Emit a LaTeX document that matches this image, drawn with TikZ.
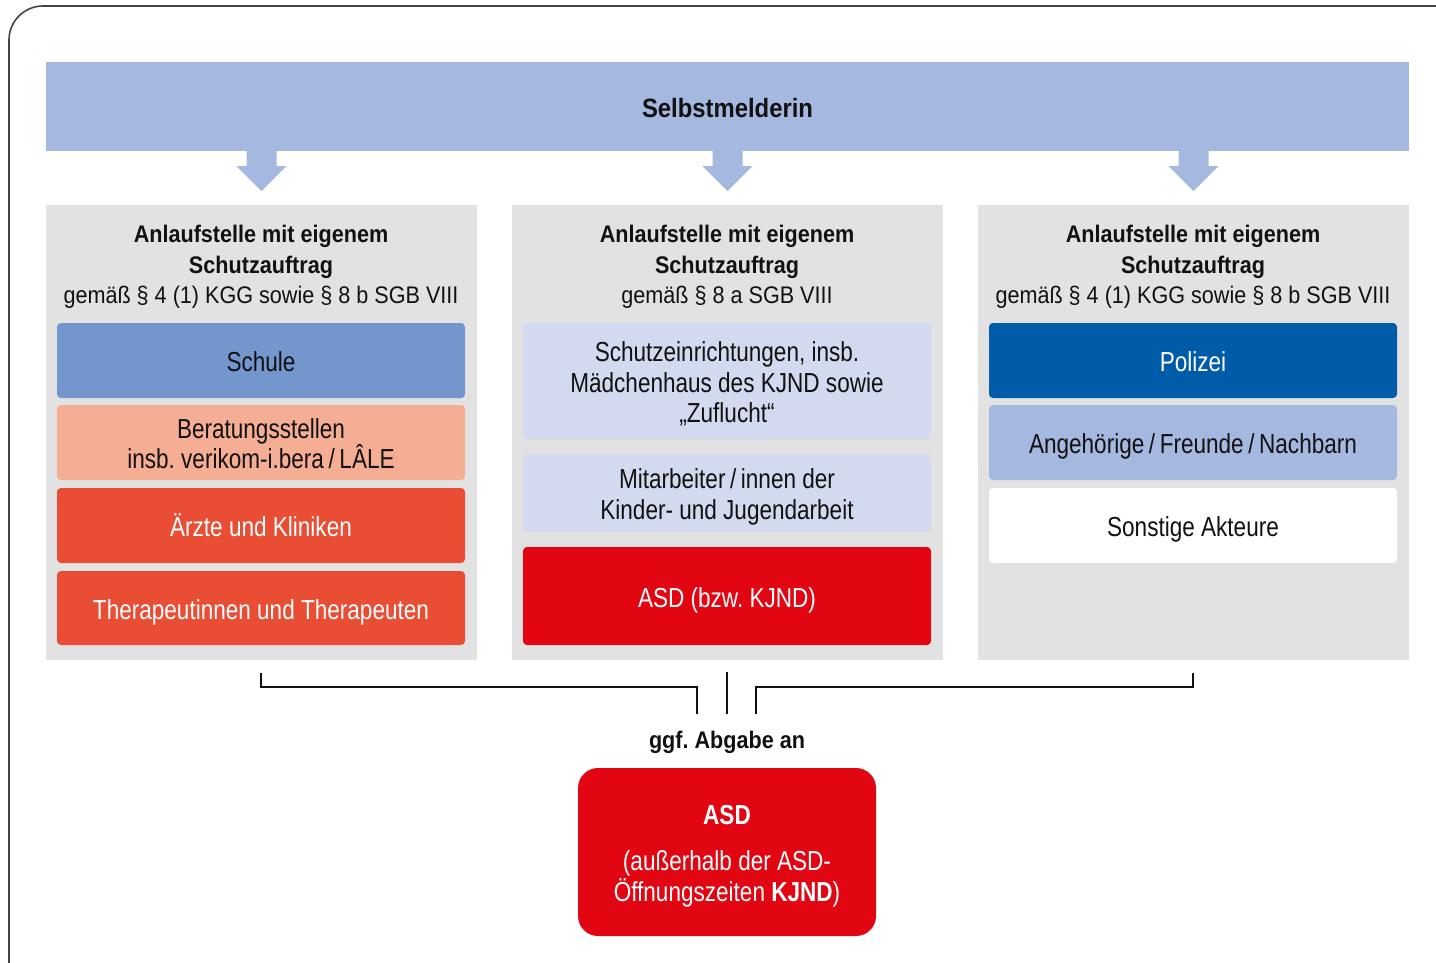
\documentclass[tikz,border=0pt]{standalone}
\usepackage{fontspec}
\setmainfont{Liberation Sans}[FakeStretch=0.9]
\newfontfamily\boxfont{Liberation Sans}[FakeStretch=0.82]
\usetikzlibrary{calc}
\frenchspacing
\definecolor{barc}{HTML}{A5B8DF}
\definecolor{grayc}{HTML}{E2E2E2}
\definecolor{schulec}{HTML}{7396CD}
\definecolor{beratc}{HTML}{F5AE94}
\definecolor{aerztec}{HTML}{E94E35}
\definecolor{lavc}{HTML}{D3DAEF}
\definecolor{redc}{HTML}{E20613}
\definecolor{polc}{HTML}{005CA9}
\definecolor{txtc}{HTML}{111111}
\definecolor{framec}{HTML}{444444}
\newcommand\ft{\rule{0pt}{29pt}}
\newcommand\lt{\rule[-7pt]{0pt}{7pt}}
\tikzset{
  colbox/.style={fill=grayc, inner sep=0pt, outer sep=0pt, minimum width=431pt, minimum height=455pt},
  ibox/.style={rounded corners=4pt, inner sep=0pt, outer sep=0pt, minimum width=408pt, align=center,
     font=\boxfont\fontsize{27.5}{30.8}\selectfont, text=txtc},
  wtext/.style={text=white},
  headtxt/.style={align=center, inner sep=0pt, font=\fontsize{24}{30.5}\selectfont, text=txtc},
  bracketline/.style={line width=2.6pt, draw=txtc},
  arrowfill/.style={fill=barc},
}
\begin{document}
\begin{tikzpicture}[x=1pt,y=-1pt]
\useasboundingbox (0,0) rectangle (1436,963);
\begin{scope}
\clip (0,0) rectangle (1436,963);
\draw[line width=1.6pt, draw=framec, rounded corners=34pt] (9,6) rectangle (1475,1000);
\end{scope}
% top bar
\node[fill=barc, inner sep=0pt, minimum width=1363pt, minimum height=89pt, text height=23pt, text depth=0pt,
  font=\fontsize{26.5}{30}\selectfont\bfseries, text=txtc] (top) at (727.5,106.5) {Selbstmelderin};
% columns
\node[colbox] (colA) at (261.5,432.5) {};
\node[colbox] (colB) at (727.5,432.5) {};
\node[colbox] (colC) at (1193.5,432.5) {};
% arrows
\foreach \c in {colA,colB,colC}{
  \fill[arrowfill] ($(top.south -| \c.north)+(-15,0)$) -- ++(30,0) -- ++(0,15) -- ++(10,0)
     -- ++(-25,25) -- ++(-25,-25) -- ++(10,0) -- cycle;
}
% headers
\node[headtxt] (hA) at (261,267) {\textbf{Anlaufstelle mit eigenem}\\\textbf{Schutzauftrag}\\gemäß § 4 (1) KGG sowie § 8 b SGB VIII};
\node[headtxt] (hB) at (727,267) {\textbf{Anlaufstelle mit eigenem}\\\textbf{Schutzauftrag}\\gemäß § 8 a SGB VIII};
\node[headtxt] (hC) at (1193,267) {\textbf{Anlaufstelle mit eigenem}\\\textbf{Schutzauftrag}\\gemäß § 4 (1) KGG sowie § 8 b SGB VIII};
% left column boxes
\node[ibox, fill=schulec, minimum height=75pt] (schule) at (261,360.5) {\ft Schule\lt};
\node[ibox, fill=beratc, minimum height=75pt] (berat) at (261,442.5) {\ft Beratungsstellen\\insb. verikom-i.bera\,/\,LÂLE\lt};
\node[ibox, wtext, fill=aerztec, minimum height=75pt] (aerzte) at (261,525.5) {\ft Ärzte und Kliniken\lt};
\node[ibox, wtext, fill=aerztec, minimum height=74pt] (therap) at (261,608) {\ft Therapeutinnen und Therapeuten\lt};
% middle column boxes
\node[ibox, fill=lavc, minimum height=116pt] (schutz) at (727,381) {\ft Schutzeinrichtungen, insb.\\Mädchenhaus des KJND sowie\\„Zuflucht“\lt};
\node[ibox, fill=lavc, minimum height=78pt] (mitarb) at (727,493) {\ft Mitarbeiter\,/\,innen der\\Kinder- und Jugendarbeit\lt};
\node[ibox, wtext, fill=redc, minimum height=98pt] (asdB) at (727,596) {\ft ASD (bzw. KJND)\lt};
% right column boxes
\node[ibox, wtext, fill=polc, minimum height=75pt] (pol) at (1193,360.5) {\ft Polizei\lt};
\node[ibox, fill=barc, minimum height=75pt] (angeh) at (1193,442.5) {\ft Angehörige\,/\,Freunde\,/\,Nachbarn\lt};
\node[ibox, fill=white, minimum height=75pt] (sonst) at (1193,525.5) {\ft Sonstige Akteure\lt};
% bracket
\coordinate (bA) at ($(colA.south)+(-0.5,13)$);
\coordinate (bB) at ($(colB.south)+(-0.5,12)$);
\coordinate (bC) at ($(colC.south)+(-0.5,13)$);
\node[inner sep=0pt, font=\fontsize{24}{28}\selectfont\bfseries, text=txtc] (abg) at (727,742) {ggf. Abgabe an};
\coordinate (eA) at (697,714);
\coordinate (eB) at (727,714);
\coordinate (eC) at (756,714);
\draw[bracketline] (bA) |- ($(eA)+(0,-27)$) -- (eA);
\draw[bracketline] (bB) -- (eB);
\draw[bracketline] (bC) |- ($(eC)+(0,-27)$) -- (eC);
% bottom box
\node[fill=redc, rounded corners=20pt, inner sep=0pt, minimum width=298pt, minimum height=168pt,
  text=white, align=center, font=\boxfont\fontsize{27.5}{30.5}\selectfont] (asd) at (727,852)
  {\ft\textbf{ASD}\\[15.5pt](außerhalb der ASD-\\Öffnungszeiten \textbf{KJND})\lt};
\end{tikzpicture}
\end{document}
